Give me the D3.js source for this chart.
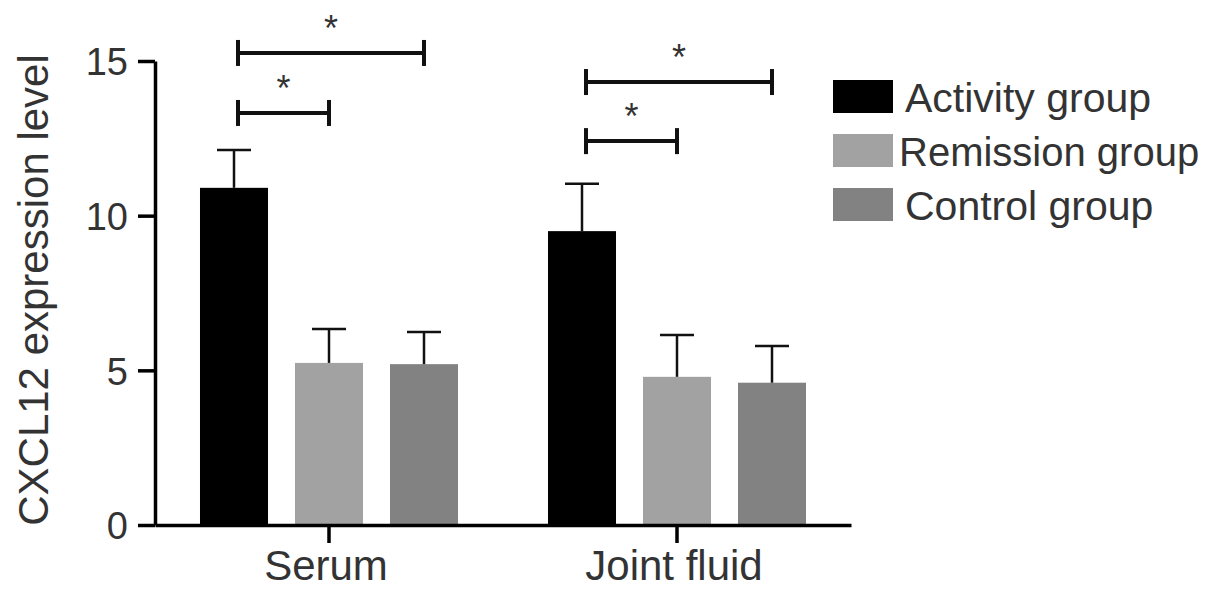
<!DOCTYPE html>
<html><head><meta charset="utf-8">
<script src="https://cdn.jsdelivr.net/npm/d3@7"></script>
<style>body{margin:0;background:#fff}svg{display:block}text{font-family:"Liberation Sans",Arial,sans-serif;fill:#333}</style>
</head><body><svg id="c" width="1205" height="604"></svg>
<script>
const categories = ["Serum", "Joint fluid"];
const seriesNames = ["Activity group", "Remission group", "Control group"];
const means = { "Activity group": [10.9, 9.5], "Remission group": [5.24, 4.79], "Control group": [5.2, 4.6] };
const upper = { "Activity group": [12.12, 11.03], "Remission group": [6.34, 6.14], "Control group": [6.24, 5.79] };
const colors = ["#000000", "#a2a2a2", "#828282"];
const yTicks = [0, 5, 10, 15];
const yTitle = "CXCL12 expression level";
const brackets = [
  { cat: "Serum", from: "Activity group", to: "Remission group", y: 13.32, label: "*" },
  { cat: "Serum", from: "Activity group", to: "Control group", y: 15.26, label: "*" },
  { cat: "Joint fluid", from: "Activity group", to: "Remission group", y: 12.41, label: "*" },
  { cat: "Joint fluid", from: "Activity group", to: "Control group", y: 14.32, label: "*" }
];

const svg = d3.select("#c");
const y = d3.scaleLinear().domain([0, 15]).range([525, 61]);
const x0 = d3.scaleBand().domain(categories).range([155, 851]).padding(0);
const x1 = d3.scaleBand().domain(seriesNames).range([31.5, 316.5]).paddingInner(0.284).paddingOuter(0.142);
const color = d3.scaleOrdinal().domain(seriesNames).range(colors);

// bars
const rows = [];
categories.forEach((c, i) => seriesNames.forEach(s => rows.push({ c, s, v: means[s][i], u: upper[s][i] })));
svg.append("g").selectAll("rect").data(rows).join("rect")
  .attr("x", d => x0(d.c) + x1(d.s))
  .attr("y", d => y(d.v))
  .attr("width", x1.bandwidth())
  .attr("height", d => y(0) - y(d.v))
  .attr("fill", d => color(d.s));

// error bars
const eg = svg.append("g").attr("stroke", "#111").attr("stroke-width", 2.5);
rows.forEach(d => {
  const cx = x0(d.c) + x1(d.s) + x1.bandwidth() / 2;
  eg.append("line").attr("x1", cx).attr("x2", cx).attr("y1", y(d.v)).attr("y2", y(d.u));
  eg.append("line").attr("x1", cx - 17).attr("x2", cx + 17).attr("y1", y(d.u)).attr("y2", y(d.u));
});

// axes
const yAxis = svg.append("g").attr("transform", "translate(155,0)")
  .call(d3.axisLeft(y).tickValues(yTicks).tickSize(17).tickSizeOuter(0).tickPadding(10));
const xAxis = svg.append("g").attr("transform", "translate(0,525)")
  .call(d3.axisBottom(x0).tickSize(18).tickSizeOuter(0).tickPadding(5));
[yAxis, xAxis].forEach(a => {
  a.selectAll("path,line").attr("stroke", "#000").attr("stroke-width", 3.5);
  a.selectAll("text").attr("fill", "#333").style("font-family", "Liberation Sans, Arial, sans-serif");
});
yAxis.selectAll("text").style("font-size", "38px").attr("dy", "0.36em");
xAxis.selectAll("text").style("font-size", "42px").attr("dy", "0.75em").attr("dx", "-3");

// y title
svg.append("text").attr("transform", "translate(33,290) rotate(-90)")
  .attr("text-anchor", "middle").attr("dominant-baseline", "central")
  .style("font-size", "42px").text(yTitle);

// significance brackets
const bg = svg.append("g");
brackets.forEach(b => {
  const xa = x0(b.cat) + x1(b.from) + x1.bandwidth() / 2 + 4;
  const xb = x0(b.cat) + x1(b.to) + x1.bandwidth() / 2;
  const yy = y(b.y);
  const g = bg.append("g").attr("stroke", "#111").attr("stroke-width", 4).attr("fill", "none");
  g.append("line").attr("x1", xa).attr("x2", xb).attr("y1", yy).attr("y2", yy);
  g.append("line").attr("x1", xa).attr("x2", xa).attr("y1", yy - 13).attr("y2", yy + 13);
  g.append("line").attr("x1", xb).attr("x2", xb).attr("y1", yy - 13).attr("y2", yy + 13);
  bg.append("text").attr("x", (xa + xb) / 2).attr("y", yy - 12)
    .attr("text-anchor", "middle").style("font-size", "36px").attr("fill", "#222").text(b.label);
});

// legend
const lg = svg.append("g").attr("transform", "translate(833,80)");
seriesNames.forEach((s, i) => {
  const gy = i * 54;
  lg.append("rect").attr("x", 0).attr("y", gy).attr("width", 60).attr("height", 33).attr("fill", color(s));
  lg.append("text").attr("x", i === 1 ? 66 : 72).attr("y", gy + 18)
    .attr("dominant-baseline", "central").style("font-size", i === 1 ? "40px" : "41px").text(s);
});
</script></body></html>
